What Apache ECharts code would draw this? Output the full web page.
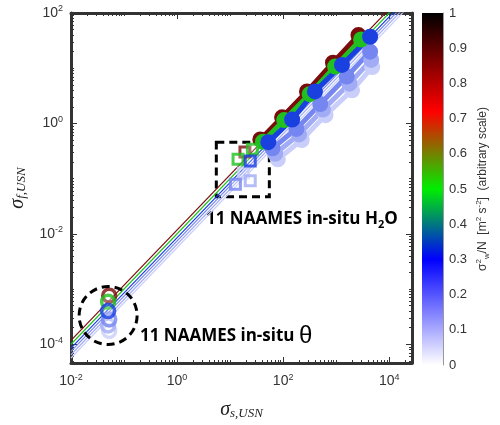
<!DOCTYPE html>
<html>
<head>
<meta charset="utf-8">
<script src="https://cdn.jsdelivr.net/npm/echarts@6/dist/echarts.min.js"></script>
<style>html,body{margin:0;padding:0;background:#fff}</style>
</head>
<body>
<div id="main" style="width:500px;height:425px"></div>
<script>
// all positions are log10 values
const xRange = [-2, 4.43]
const yRange = [-4.34, 2]
const majorTicks = { x: [-2, 0, 2, 4], y: [-4, -2, 0, 2] }

// one entry per colour level (sigma_w^2/N)
const levels = [0.92, 0.5, 0.3, 0.2, 0.13, 0.07]
const colors = ['#7a0c0c', '#1fc01f', '#1a40e0', '#7686f0', '#a2acf5', '#c9cefa']
const lineOffset = [-1.93, -2.0, -2.07, -2.13, -2.19, -2.25]
const circleX = [
  [1.57, 1.98, 2.45, 2.94, 3.42],
  [1.62, 2.02, 2.5, 2.98, 3.47],
  [1.72, 2.17, 2.6, 3.11, 3.64],
  [1.8, 2.25, 2.7, 3.2, 3.64],
  [1.85, 2.3, 2.75, 3.25, 3.66],
  [1.9, 2.35, 2.8, 3.3, 3.68]
]
const circleY = [
  [-0.29, 0.11, 0.58, 1.1, 1.6],
  [-0.33, 0.06, 0.53, 1.03, 1.52],
  [-0.34, 0.07, 0.58, 1.06, 1.57],
  [-0.45, -0.1, 0.35, 0.85, 1.3],
  [-0.55, -0.2, 0.25, 0.72, 1.15],
  [-0.65, -0.3, 0.15, 0.6, 1.02]
]
const thetaX = [-1.28, -1.3, -1.3, -1.28, -1.3, -1.28]
const thetaY = [-3.12, -3.23, -3.4, -3.55, -3.66, -3.76]
const squareX = [1.28, 1.42, 1.38, 1.1, 1.38, 1.25]
const squareY = [-0.52, -0.47, -0.68, -1.1, -1.04, -0.9]
const extraSquare = [[1.15, -0.65]]

const rectBox = [[0.74, -0.34], [1.74, -1.33]]
const circleCentre = [-1.3, -3.48]

const cbTicks = [0, 0.1, 0.2, 0.3, 0.4, 0.5, 0.6, 0.7, 0.8, 0.9, 1]
const cbStops = [[0, '#ffffff'], [0.3, '#0000ff'], [0.5, '#00ee00'], [0.72, '#ff0000'], [0.85, '#8b0000'], [1, '#000000']]

// draw order: light blues underneath, then red, green, blue on top
const drawOrder = [5, 4, 3, 0, 1, 2]

const minor = (lo, hi) => {
  const out = []
  for (let n = Math.floor(lo); n <= hi; n++) for (let k = 1; k < 10; k++) {
    const v = n + Math.log10(k)
    if (v >= lo && v <= hi) out.push(v)
  }
  return out
}

const pow = v => '10{s|' + v + '}'
const rich = { s: { fontSize: 9, verticalAlign: 'bottom', padding: [0, 0, 8, 0], fontFamily: 'Liberation Sans', color: '#333' } }

const chart = echarts.init(document.getElementById('main'))
const G = { left: 71, top: 13, width: 341, height: 352 }

const xAxisBase = {
  type: 'value', min: xRange[0], max: xRange[1], gridIndex: 0,
  splitLine: { show: false }
}
const yAxisBase = {
  type: 'value', min: yRange[0], max: yRange[1], gridIndex: 0,
  splitLine: { show: false }
}
const frame = { show: true, onZero: false, lineStyle: { color: '#333', width: 3 } }
const noLine = { show: false, onZero: false }
const tickStyle = { color: '#333', width: 1 }

const series = []
levels.forEach((lv, i) => {
  const off = lineOffset[i]
  series.push({
    type: 'line', z: 2, silent: true, symbol: 'none',
    data: [[xRange[0], xRange[0] + off], [xRange[1], xRange[1] + off]],
    lineStyle: { color: colors[i], width: 1.2 }
  })
})
drawOrder.forEach(i => {
  series.push({
    type: 'line', z: 3, symbol: 'circle', symbolSize: 14,
    data: circleX[i].map((x, j) => [x, circleY[i][j]]),
    lineStyle: { color: colors[i], width: 5 },
    itemStyle: { color: colors[i], borderColor: colors[i], borderWidth: 2 }
  })
  series.push({
    type: 'scatter', z: 4, symbol: 'circle', symbolSize: 13,
    data: [[thetaX[i], thetaY[i]]],
    itemStyle: { color: 'rgba(255,255,255,0.3)', borderColor: colors[i], borderWidth: 3.5 }
  })
  series.push({
    type: 'scatter', z: 4, symbol: 'rect', symbolSize: 10,
    data: [[squareX[i], squareY[i]]].concat(i === 1 ? extraSquare : []),
    itemStyle: { color: 'rgba(255,255,255,0.3)', borderColor: colors[i], borderWidth: 3 }
  })
})
series.push({
  type: 'scatter', data: [], silent: true,
  markArea: {
    silent: true,
    itemStyle: { color: 'transparent', borderColor: '#000', borderWidth: 3, borderType: [8, 5] },
    data: [[{ coord: rectBox[0] }, { coord: rectBox[1] }]]
  }
})
series.push({
  type: 'bar', xAxisIndex: 4, yAxisIndex: 4, data: [1], barWidth: '100%', silent: true,
  itemStyle: {
    color: new echarts.graphic.LinearGradient(0, 1, 0, 0,
      cbStops.map(s => ({ offset: s[0], color: s[1] })))
  }
})

const nameRich = {
  i: { fontFamily: 'Liberation Serif', fontStyle: 'italic', fontSize: 20, color: '#222' },
  t: { fontFamily: 'Liberation Serif', fontStyle: 'italic', fontSize: 13, verticalAlign: 'bottom', padding: [8, 0, 0, 0], color: '#222' }
}
const annRich = {
  a: { font: 'bold 17px "Open Sans"', color: '#111' },
  sub: { font: 'bold 11px "Open Sans"', color: '#111', verticalAlign: 'top', padding: [11, 0, 0, 0] },
  th: { font: '24px "Liberation Sans"', color: '#111' }
}

chart.setOption({
  animation: false,
  grid: [G, { left: 422, top: 13, width: 21, height: 352 }],
  xAxis: [
    Object.assign({}, xAxisBase, {
      position: 'bottom', axisLine: frame,
      axisTick: { inside: true, length: 6, customValues: majorTicks.x, lineStyle: tickStyle },
      axisLabel: { customValues: majorTicks.x, formatter: pow, rich, fontSize: 14, color: '#333', fontFamily: 'Liberation Sans', margin: 10 },
      name: '{i|σ}{t|s,USN}', nameLocation: 'middle', nameGap: 36, nameTextStyle: { rich: nameRich }
    }),
    Object.assign({}, xAxisBase, {
      position: 'top', axisLine: frame,
      axisTick: { inside: true, length: 6, customValues: majorTicks.x, lineStyle: tickStyle },
      axisLabel: { show: false }
    }),
    Object.assign({}, xAxisBase, {
      position: 'bottom', axisLine: noLine,
      axisTick: { inside: true, length: 3, customValues: minor(xRange[0], xRange[1]), lineStyle: tickStyle },
      axisLabel: { show: false }
    }),
    Object.assign({}, xAxisBase, {
      position: 'top', axisLine: noLine,
      axisTick: { inside: true, length: 3, customValues: minor(xRange[0], xRange[1]), lineStyle: tickStyle },
      axisLabel: { show: false }
    }),
    { type: 'category', gridIndex: 1, data: [''], show: false }
  ],
  yAxis: [
    Object.assign({}, yAxisBase, {
      position: 'left', axisLine: frame,
      axisTick: { inside: true, length: 6, customValues: majorTicks.y, lineStyle: tickStyle },
      axisLabel: { customValues: majorTicks.y, formatter: pow, rich, fontSize: 14, color: '#333', fontFamily: 'Liberation Sans', margin: 8 },
      name: '{i|σ}{t|f,USN}', nameLocation: 'middle', nameGap: 42, nameTextStyle: { rich: nameRich }
    }),
    Object.assign({}, yAxisBase, {
      position: 'right', axisLine: frame,
      axisTick: { inside: true, length: 6, customValues: majorTicks.y, lineStyle: tickStyle },
      axisLabel: { show: false }
    }),
    Object.assign({}, yAxisBase, {
      position: 'left', axisLine: noLine,
      axisTick: { inside: true, length: 3, customValues: minor(yRange[0], yRange[1]), lineStyle: tickStyle },
      axisLabel: { show: false }
    }),
    Object.assign({}, yAxisBase, {
      position: 'right', axisLine: noLine,
      axisTick: { inside: true, length: 3, customValues: minor(yRange[0], yRange[1]), lineStyle: tickStyle },
      axisLabel: { show: false }
    }),
    {
      type: 'value', gridIndex: 1, min: 0, max: 1, interval: 0.1, position: 'right',
      splitLine: { show: false },
      axisLine: { show: true, onZero: false, lineStyle: { color: '#999', width: 1 } },
      axisTick: { show: false },
      axisLabel: { formatter: v => cbTicks.includes(+v.toFixed(1)) ? String(+v.toFixed(1)) : '', fontSize: 13, color: '#333', fontFamily: 'Liberation Sans', margin: 6 },
      name: '{t|σ}{p|2}{b|w}{t|/N  [m}{p|2}{t| s}{p|-2}{t|]  (arbitrary scale)}',
      nameLocation: 'middle', nameGap: 32, nameRotate: 90,
      nameTextStyle: { rich: {
        t: { fontSize: 12, fontFamily: 'Liberation Sans', color: '#333' },
        p: { fontSize: 8, fontFamily: 'Liberation Sans', color: '#333', verticalAlign: 'bottom', padding: [0, 0, 8, 0] },
        b: { fontSize: 8, fontFamily: 'Liberation Sans', color: '#333', verticalAlign: 'top', padding: [8, 0, 0, 0] }
      } }
    }
  ],
  series,
  graphic: [
    { type: 'text', id: 'h2o', left: 206, top: 211, style: { text: '{a|11 NAAMES in-situ H}{sub|2}{a|O}', rich: annRich } },
    { type: 'text', id: 'theta', left: 140, top: 324, style: { text: '{a|11 NAAMES in-situ }{th|θ}', rich: annRich } }
  ]
})

const c = chart.convertToPixel({ xAxisIndex: 0, yAxisIndex: 0 }, circleCentre)
chart.setOption({
  graphic: [{ type: 'circle', id: 'ring', z: 100, shape: { cx: c[0], cy: c[1], r: 29 }, style: { fill: 'none', stroke: '#000', lineWidth: 3, lineDash: [8, 5] } }]
})
</script>
</body>
</html>
